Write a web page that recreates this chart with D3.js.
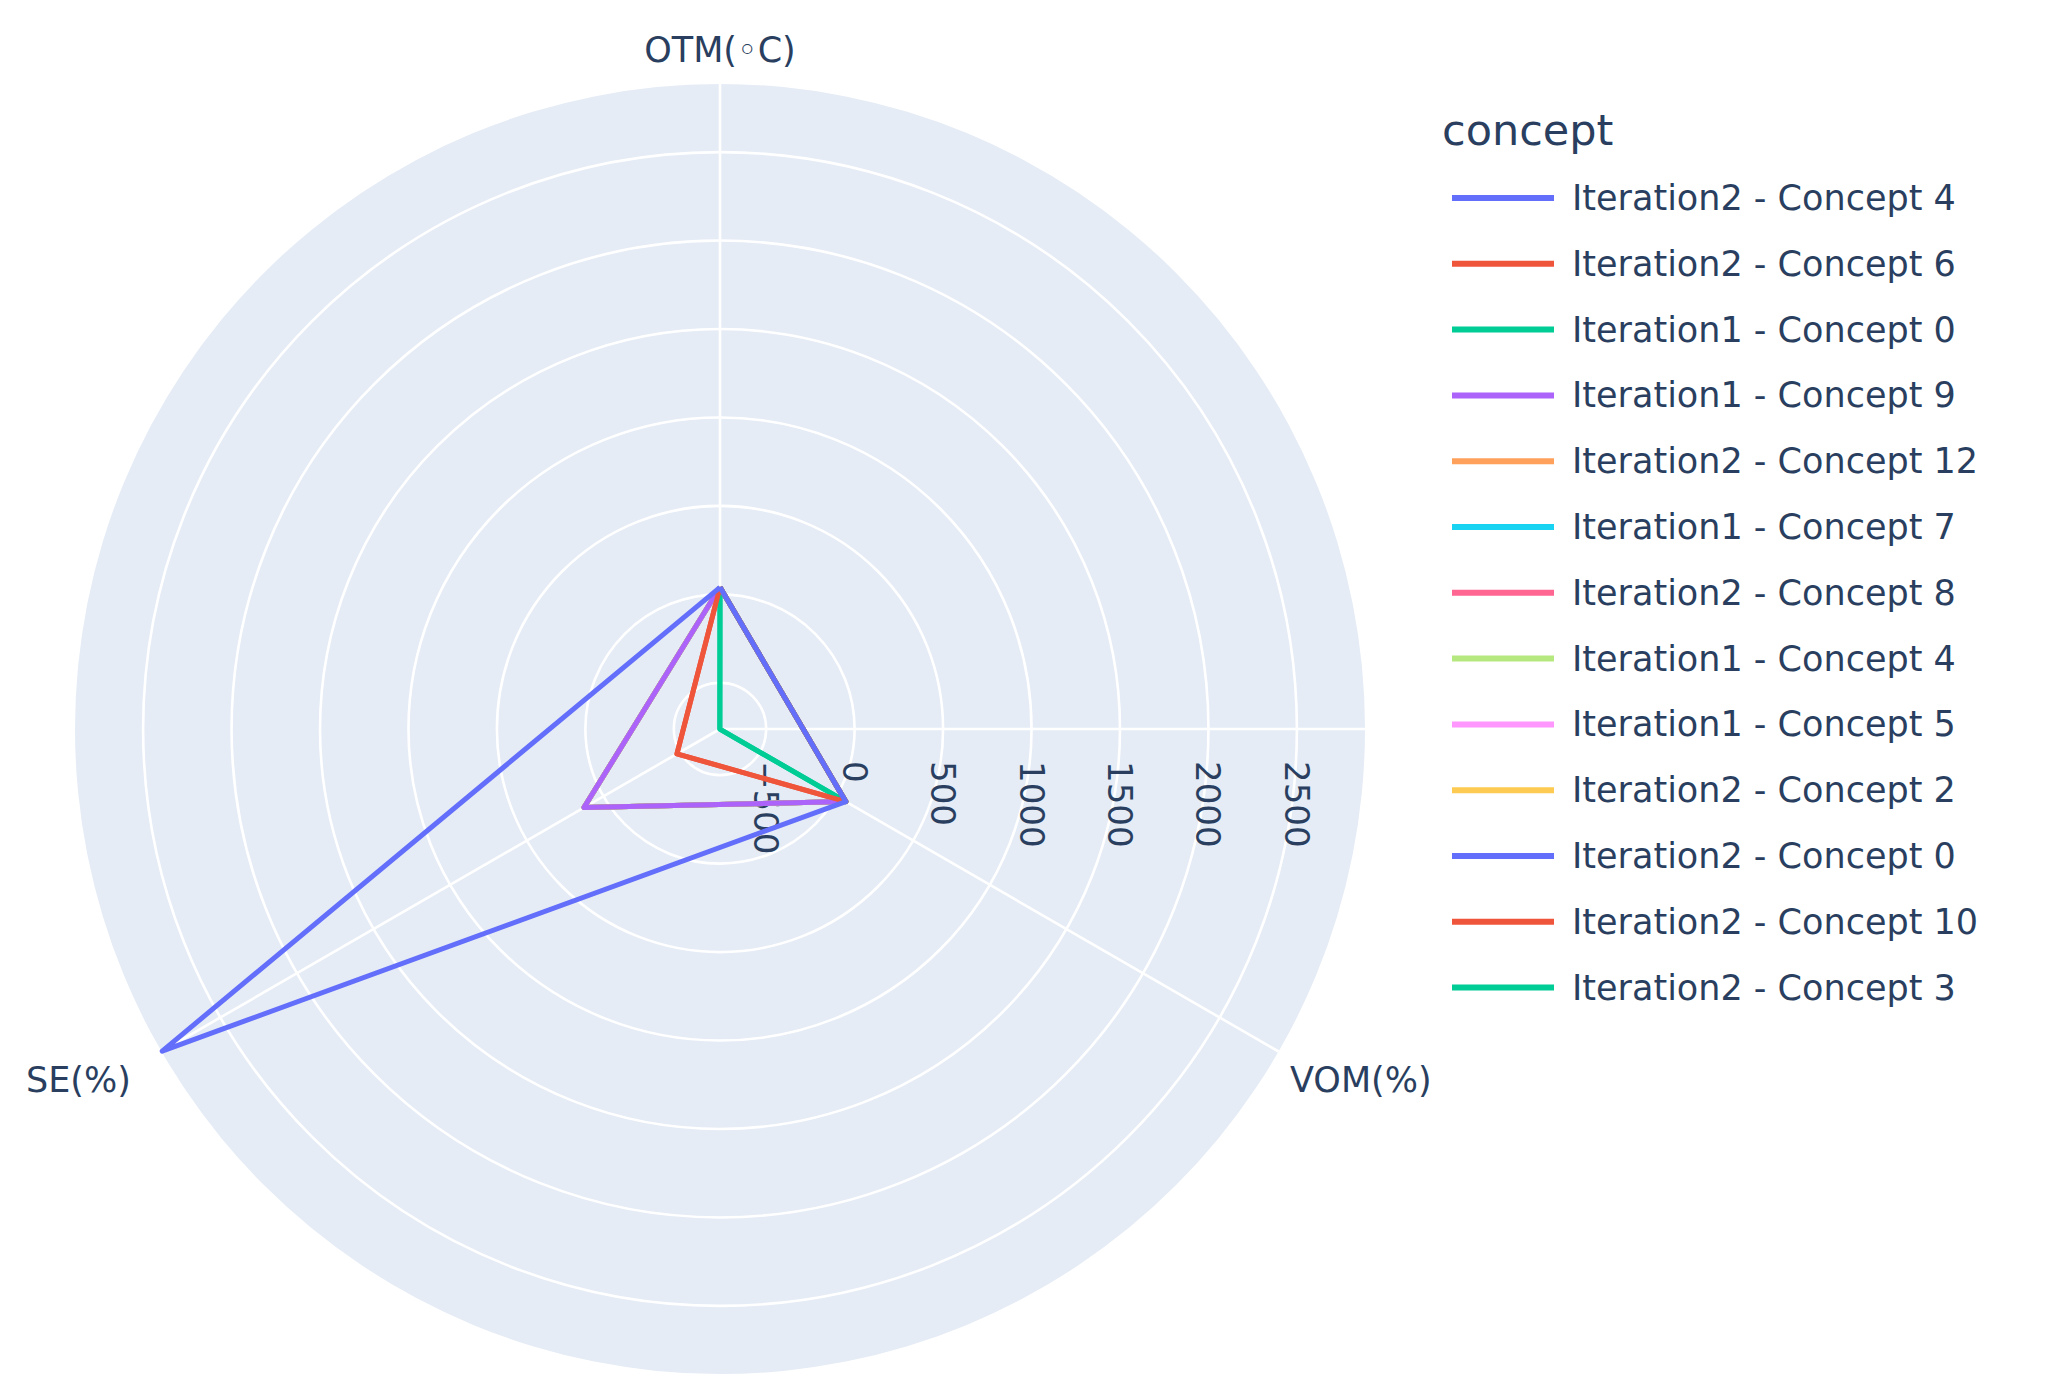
<!DOCTYPE html>
<html><head><meta charset="utf-8">
<script src="https://cdn.jsdelivr.net/npm/d3@7"></script>
<style>body{margin:0;background:#fff}text{font-family:"DejaVu Sans",sans-serif;fill:#2a3f5f}</style>
</head><body><svg id="c" width="2068" height="1398"></svg>
<script>
const axesLabels = ["OTM(◦C)", "VOM(%)", "SE(%)"];
const axisAngles = [90, -30, 210];
const concepts = ["Iteration2 - Concept 4","Iteration2 - Concept 6","Iteration1 - Concept 0","Iteration1 - Concept 9","Iteration2 - Concept 12","Iteration1 - Concept 7","Iteration2 - Concept 8","Iteration1 - Concept 4","Iteration1 - Concept 5","Iteration2 - Concept 2","Iteration2 - Concept 0","Iteration2 - Concept 10","Iteration2 - Concept 3"];
const otm = [40,40,40,40,40,40,40,40,40,40,40,40,40];
const vom = [60,60,60,60,60,60,60,60,60,60,60,60,60];
const se  = [2880,-480,-760,127,127,127,127,127,127,127,127,-480,-760];
const colors = ["#636efa","#EF553B","#00cc96","#ab63fa","#FFA15A","#19d3f3","#FF6692","#B6E880","#FF97FF","#FECB52","#636efa","#EF553B","#00cc96"];
const radialTicks = [-500,0,500,1000,1500,2000,2500];
const rMin = -761, rMax = 2885;

const svg = d3.select("#c");
const cx = 720, cy = 729, R = 645;
const r = d3.scaleLinear().domain([rMin, rMax]).range([0, R]);
const pt = (v, a) => { const t = a*Math.PI/180; return [cx + r(v)*Math.cos(t), cy - r(v)*Math.sin(t)]; };

svg.append("circle").attr("cx",cx).attr("cy",cy).attr("r",R).attr("fill","#E5ECF6");
radialTicks.forEach(t => svg.append("circle").attr("cx",cx).attr("cy",cy).attr("r",r(t))
  .attr("fill","none").attr("stroke","#fff").attr("stroke-width",2.6));
axisAngles.forEach(a => { const p = pt(rMax, a);
  svg.append("line").attr("x1",cx).attr("y1",cy).attr("x2",p[0]).attr("y2",p[1]).attr("stroke","#fff").attr("stroke-width",2.6); });
svg.append("line").attr("x1",cx).attr("y1",cy).attr("x2",cx+R).attr("y2",cy).attr("stroke","#fff").attr("stroke-width",2.6);

radialTicks.forEach(t => {
  const x = cx + r(t), y = cy + 32;
  svg.append("text").attr("transform",`translate(${x-12},${y}) rotate(90)`)
    .attr("font-size",34).text(t < 0 ? "\u2212" + Math.abs(t) : t);
});

const line = d3.line();
for (let i = concepts.length-1; i >= 0; i--) {
  const pts = [pt(otm[i],axisAngles[0]), pt(vom[i],axisAngles[1]), pt(se[i],axisAngles[2])];
  pts.push(pts[0]);
  svg.append("path").attr("d",line(pts)).attr("fill","none").attr("stroke",colors[i])
    .attr("stroke-width",5).attr("stroke-linejoin","round");
}

svg.append("text").attr("x",720).attr("y",62).attr("text-anchor","middle").attr("font-size",35).text(axesLabels[0]);
svg.append("text").attr("x",1290).attr("y",1092).attr("font-size",35).text(axesLabels[1]);
svg.append("text").attr("x",26).attr("y",1092).attr("font-size",35).text(axesLabels[2]);

svg.append("text").attr("x",1442).attr("y",145).attr("font-size",43).text("concept");
concepts.forEach((c,i) => {
  const y = 198 + i*65.8;
  svg.append("line").attr("x1",1452).attr("x2",1554).attr("y1",y).attr("y2",y).attr("stroke",colors[i]).attr("stroke-width",6);
  svg.append("text").attr("x",1572).attr("y",y+12).attr("font-size",35).text(c);
});
</script></body></html>
